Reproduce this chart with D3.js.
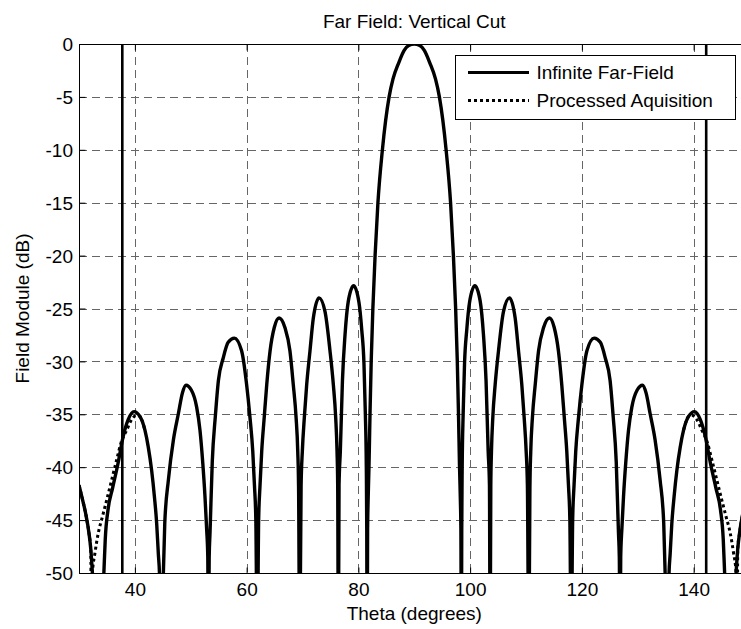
<!DOCTYPE html>
<html>
<head>
<meta charset="utf-8">
<script src="https://cdn.jsdelivr.net/npm/d3@7"></script>
<style>
html,body{margin:0;padding:0;background:#fff;}
svg{display:block;}
text{font-family:"Liberation Sans",Arial,Helvetica,sans-serif;fill:#000;}
</style>
</head>
<body>
<svg id="chart" width="741" height="629"></svg>
<script>
// ---------- data ----------
const titleText = "Far Field: Vertical Cut";
const xLabelText = "Theta (degrees)";
const yLabelText = "Field Module (dB)";
const seriesNames = ["Infinite Far-Field", "Processed Aquisition"];
const xTicks = [40, 60, 80, 100, 120, 140];
const yTicks = [0, -5, -10, -15, -20, -25, -30, -35, -40, -45, -50];
const markerTheta = [37.75, 142.25];

// Infinite far-field (solid)
const solidTheta = [
  30.0, 30.6, 31.2, 31.8, 32.1, 32.4, 33.4, 34.45, 34.7, 35.2, 36.0, 37.0, 37.9, 38.8, 39.85, 40.9, 41.8, 42.4, 43.0, 43.5, 43.9, 44.2, 44.4, 44.75,
  45.1, 45.35, 46.0, 46.9, 47.8, 48.5, 49.15, 50.1, 51.05, 51.65, 52.15, 52.55, 52.85, 53.05, 53.15, 53.3, 53.45, 53.85, 54.4, 54.95, 55.8, 56.7,
  57.8, 59.1, 60.0, 60.6, 61.1, 61.4, 61.65, 61.9, 62.15, 62.4, 62.7, 63.15, 63.6, 64.2, 64.95, 65.8, 66.85, 67.75, 68.35, 68.85, 69.15, 69.3,
  69.5, 69.75, 69.97, 70.33, 70.75, 71.34, 71.94, 72.96, 74.03, 74.92, 75.52, 75.94, 76.18, 76.3, 76.42, 76.54, 76.77, 77.15, 77.61, 78.2,
  79.15, 80.1, 80.6, 81.0, 81.25, 81.42, 81.5, 81.57, 81.65, 81.75, 81.9, 82.08, 82.3, 82.6, 83.0, 83.5, 84.3, 85.5, 86.2, 87.2, 88.2, 89.0,
  90.0,
  91.0, 91.8, 92.8, 93.8, 94.5, 95.7, 96.5, 97.0, 97.4, 97.7, 97.92, 98.1, 98.25, 98.35, 98.43, 98.5, 98.58, 98.75, 99.0, 99.4, 99.9, 100.85,
  101.8, 102.39, 102.85, 103.23, 103.46, 103.58, 103.7, 103.82, 104.06, 104.48, 105.08, 105.97, 107.04, 108.06, 108.66, 109.25, 109.67,
  110.03, 110.25, 110.5, 110.7, 110.85, 111.15, 111.65, 112.25, 113.15, 114.2, 115.05, 115.8, 116.4, 116.85, 117.3, 117.6, 117.85, 118.1,
  118.35, 118.6, 118.9, 119.4, 120.0, 120.9, 122.2, 123.3, 124.2, 125.05, 125.6, 126.15, 126.55, 126.7, 126.85, 126.95, 127.15, 127.45,
  127.85, 128.35, 128.95, 129.9, 130.85, 131.5, 132.2, 133.1, 134.0, 134.65, 134.9, 135.25, 135.6, 135.8, 136.1, 136.5, 137.0, 137.6, 138.2, 139.1,
  140.15, 141.2, 142.1, 143.0, 144.0, 144.8, 145.3, 145.55, 146.6, 147.6, 147.9, 148.2, 148.8, 149.4, 150.0
];
const solidDb = [
  -41.7, -43.0, -44.4, -46.3, -47.7, -50.0, -62, -50.0, -46.8, -44.0, -42.0, -39.6, -37.1, -35.5, -34.75, -35.2, -36.5, -38.1, -40.3, -42.8, -45.3, -48.2, -50.0, -60,
  -50.0, -45.3, -41.2, -37.4, -34.9, -33.0, -32.25, -32.7, -34.3, -36.5, -39.6, -42.8, -45.9, -48.5, -58, -48.5, -46.2, -39.5, -35.2, -31.8, -29.7, -28.2,
  -27.8, -29.0, -32.2, -35.3, -38.5, -41.7, -45.0, -58, -45.0, -41.7, -38.5, -35.3, -32.2, -29.0, -26.8, -25.9, -26.8, -29.0, -32.2, -35.3, -38.5, -42.0,
  -58, -41.7, -38.5, -35.3, -32.2, -29.0, -25.9, -24.0, -25.3, -29.0, -32.2, -35.3, -38.5, -41.7, -58, -41.7, -38.5, -31.8, -27.5, -24.3,
  -22.85, -24.4, -27.0, -30.2, -35.0, -39.9, -46, -60, -46, -43, -39.9, -35.0, -29.9, -24.9, -19.9, -15.0, -10.0, -5.0, -3.3, -1.8, -0.6, -0.15,
  0,
  -0.15, -0.6, -1.8, -3.3, -5.0, -10.0, -15.0, -19.9, -24.9, -29.9, -35.0, -39.9, -43, -46, -60, -46, -39.9, -35.0, -30.2, -27.0, -24.4, -22.85,
  -24.3, -27.5, -31.8, -38.5, -41.7, -58, -41.7, -38.5, -35.3, -32.2, -29.0, -25.3, -24.0, -25.9, -29.0, -32.2, -35.3,
  -38.5, -41.7, -58, -42.0, -38.5, -35.3, -32.2, -29.0, -26.8, -25.9, -26.8, -29.0, -32.2, -35.3, -38.5, -41.7, -45.0, -58,
  -45.0, -41.7, -38.5, -35.3, -32.2, -29.0, -27.8, -28.2, -29.7, -31.8, -35.2, -39.5, -46.2, -48.5, -58, -48.5, -45.9, -42.8,
  -39.6, -36.5, -34.3, -32.7, -32.25, -33.0, -34.9, -37.4, -41.2, -45.3, -50.0, -60, -50.0, -48.2, -45.3, -42.8, -40.3, -38.1, -36.5, -35.2,
  -34.75, -35.5, -37.1, -39.6, -42.0, -44.0, -46.8, -50.0, -62, -50.0, -47.7, -46.3, -44.4, -43.0, -41.7
];

// Processed acquisition (dotted) - where it differs from the solid curve
const dottedTheta = [
  30.0, 30.6, 31.2, 31.8, 32.1, 32.25, 32.4, 32.86, 33.46, 34.18, 34.96, 35.85, 36.74, 37.52, 38.53, 39.43, 40.3, 40.9, 41.8,
  null,
  138.2, 139.1, 139.7, 140.57, 141.47, 142.48, 143.26, 144.15, 145.04, 145.82, 146.54, 147.14, 147.6, 147.75, 147.9, 148.2, 148.8, 149.4, 150.0
];
const dottedDb = [
  -41.7, -43.0, -44.4, -46.3, -47.7, -60, -50.0, -48.1, -46.2, -44.7, -43.1, -41.2, -39.3, -37.7, -36.5, -35.5, -35.1, -35.2, -36.5,
  null,
  -36.5, -35.2, -35.1, -35.5, -36.5, -37.7, -39.3, -41.2, -43.1, -44.7, -46.2, -48.1, -50.0, -60, -47.7, -46.3, -44.4, -43.0, -41.7
];

// ---------- chart ----------
const svg = d3.select("#chart");
const pL = 79, pR = 749.5, pT = 44, pB = 573;
const x = d3.scaleLinear().domain([30, 150]).range([pL, pR]);
const y = d3.scaleLinear().domain([-50, 0]).range([pB, pT]);
const fontSize = 19;

svg.append("defs").append("clipPath").attr("id", "plotclip")
  .append("rect").attr("x", pL).attr("y", pT).attr("width", pR - pL).attr("height", pB - pT);

// grid
const grid = svg.append("g").attr("stroke", "#666").attr("stroke-width", 1).attr("stroke-dasharray", "8,5");
grid.selectAll("line.v").data(xTicks).join("line")
  .attr("class", "v")
  .attr("x1", d => Math.round(x(d)) + 0.5).attr("x2", d => Math.round(x(d)) + 0.5)
  .attr("y1", pT).attr("y2", pB);
grid.selectAll("line.h").data(yTicks.filter(d => d !== 0 && d !== -50)).join("line")
  .attr("class", "h")
  .attr("y1", d => Math.round(y(d)) + 0.5).attr("y2", d => Math.round(y(d)) + 0.5)
  .attr("x1", pL).attr("x2", pR);

const plot = svg.append("g").attr("clip-path", "url(#plotclip)");

const solidData = solidTheta.map((t, i) => [t, solidDb[i]]);
const dottedData = dottedTheta.map((t, i) => [t, dottedDb[i]]);
const line = d3.line().defined(d => d[0] !== null && d[1] !== null)
  .curve(d3.curveMonotoneX)
  .x(d => x(d[0])).y(d => y(d[1]));

plot.append("path").datum(dottedData).attr("d", line)
  .attr("fill", "none").attr("stroke", "#000").attr("stroke-width", 3)
  .attr("stroke-dasharray", "3,3");

plot.append("path").datum(solidData).attr("d", line)
  .attr("fill", "none").attr("stroke", "#000").attr("stroke-width", 3.4)
  .attr("stroke-linejoin", "round");

// marker vertical lines
plot.selectAll("line.marker").data(markerTheta).join("line")
  .attr("class", "marker")
  .attr("x1", d => x(d)).attr("x2", d => x(d)).attr("y1", pT).attr("y2", pB)
  .attr("stroke", "#000").attr("stroke-width", 2.6);

// axes box
svg.append("rect").attr("x", pL + 0.5).attr("y", pT + 0.5)
  .attr("width", pR - pL).attr("height", pB - pT)
  .attr("fill", "none").attr("stroke", "#000").attr("stroke-width", 1);

// ticks (inside)
const tickLen = 6;
const xAxisB = d3.axisBottom(x).tickValues(xTicks).tickSizeInner(-tickLen).tickSizeOuter(0).tickPadding(9.5);
const gxb = svg.append("g").attr("transform", `translate(0,${pB + 0.5})`).call(xAxisB);
const xAxisT = d3.axisTop(x).tickValues(xTicks).tickSizeInner(-tickLen).tickSizeOuter(0).tickFormat("");
const gxt = svg.append("g").attr("transform", `translate(0,${pT + 0.5})`).call(xAxisT);
const yAxisL = d3.axisLeft(y).tickValues(yTicks).tickSizeInner(-tickLen).tickSizeOuter(0).tickPadding(6.5)
  .tickFormat(d => String(d));
const gyl = svg.append("g").attr("transform", `translate(${pL + 0.5},0)`).call(yAxisL);
[gxb, gxt, gyl].forEach(g => {
  g.select(".domain").remove();
  g.selectAll(".tick line").attr("stroke", "#000").attr("stroke-width", 1);
  g.selectAll("text").attr("font-size", fontSize).attr("fill", "#000")
    .style("font-family", "'Liberation Sans', Arial, sans-serif");
});
gyl.selectAll("text").attr("dy", "0.35em");

// title and labels
svg.append("text").attr("x", (pL + pR) / 2).attr("y", 28).attr("text-anchor", "middle")
  .attr("font-size", fontSize).text(titleText);
svg.append("text").attr("x", (pL + pR) / 2).attr("y", 620).attr("text-anchor", "middle")
  .attr("font-size", fontSize).text(xLabelText);
svg.append("text").attr("transform", `translate(29,${(pT + pB) / 2}) rotate(-90)`)
  .attr("text-anchor", "middle").attr("font-size", fontSize).text(yLabelText);

// legend
const lg = svg.append("g");
lg.append("rect").attr("x", 455.5).attr("y", 55.5).attr("width", 280).attr("height", 64)
  .attr("fill", "#fff").attr("stroke", "#000").attr("stroke-width", 1);
const legendRows = [72.5, 100.5];
lg.append("line").attr("x1", 468).attr("x2", 529).attr("y1", legendRows[0]).attr("y2", legendRows[0])
  .attr("stroke", "#000").attr("stroke-width", 3);
lg.append("line").attr("x1", 468).attr("x2", 529).attr("y1", legendRows[1]).attr("y2", legendRows[1])
  .attr("stroke", "#000").attr("stroke-width", 3).attr("stroke-dasharray", "3,3");
lg.selectAll("text.leg").data(seriesNames).join("text")
  .attr("class", "leg")
  .attr("x", 536.5).attr("y", (d, i) => legendRows[i]).attr("dy", "0.35em")
  .attr("font-size", fontSize).text(d => d);
</script>
</body>
</html>
